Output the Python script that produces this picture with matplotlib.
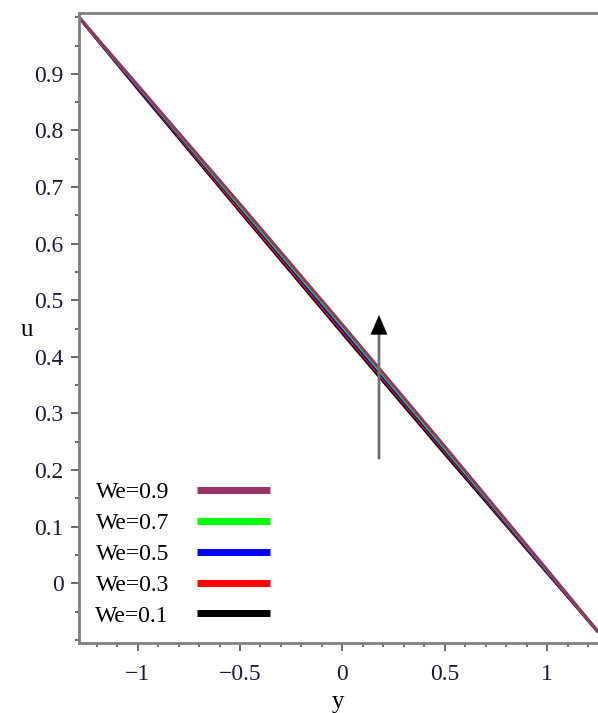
import numpy as np
from matplotlib import pyplot as plt
from matplotlib.ticker import MultipleLocator

# velocity profiles u(y) for several Weissenberg numbers
y_pts = [-1.287, -1.0, -0.5, 0.0, 0.5, 1.0, 1.25]
u_we01 = [1.0, 0.874, 0.657, 0.442, 0.229, 0.019, -0.086]
u_we03 = [1.0, 0.876, 0.660, 0.446, 0.233, 0.020, -0.086]
u_we05 = [1.0, 0.877, 0.664, 0.450, 0.236, 0.021, -0.086]
u_we07 = [1.0, 0.879, 0.667, 0.454, 0.239, 0.023, -0.086]
u_we09 = [1.0, 0.880, 0.670, 0.457, 0.242, 0.024, -0.086]

labels = ['We=0.9', 'We=0.7', 'We=0.5', 'We=0.3', 'We=0.1']
series = [u_we09, u_we07, u_we05, u_we03, u_we01]
colors = ['#993366', '#00ff00', '#0000ff', '#ff0000', '#000000']

xticks = [-1, -0.5, 0, 0.5, 1]
xticklabels = ['\u22121', '\u22120.5', '0', '0.5', '1']
yticks = [0, 0.1, 0.2, 0.3, 0.4, 0.5, 0.6, 0.7, 0.8, 0.9]
yticklabels = ['0', '0.1', '0.2', '0.3', '0.4', '0.5', '0.6', '0.7', '0.8', '0.9']

plt.rcParams['font.family'] = ['Liberation Serif', 'DejaVu Serif']

fig = plt.figure(figsize=(5.98, 7.13), dpi=100)
ax = fig.add_axes([0.132, 0.0978, 0.868, 0.8835])

# draw lowest first so the top curves stay on top
for u, c, lab in reversed(list(zip(series, colors, labels))):
	ax.plot(y_pts, u, color=c, lw=2.2, label=lab, solid_capstyle='butt')

# grey shaft with a black head
ax.annotate('', xy=(0.179, 0.45), xytext=(0.179, 0.221),
	arrowprops=dict(arrowstyle='-', color='#707070', lw=2,
		shrinkA=0, shrinkB=0))
ax.annotate('', xy=(0.179, 0.474), xytext=(0.179, 0.44),
	arrowprops=dict(arrowstyle='-|>,head_width=0.6,head_length=1.4',
		color='black', lw=0.1, shrinkA=0, shrinkB=0))

ax.set_xlim(-1.287, 1.249)
ax.set_ylim(-0.106, 1.007)

ax.set_xticks(xticks)
ax.set_xticklabels(xticklabels)
ax.set_yticks(yticks)
ax.set_yticklabels(yticklabels)
ax.xaxis.set_minor_locator(MultipleLocator(0.1))
ax.yaxis.set_minor_locator(MultipleLocator(0.05))
ax.tick_params(which='major', length=6, width=1.3, color='#606060',
	labelsize=17, labelcolor='#1a1a3a')
ax.tick_params(axis='x', which='major', pad=9)
ax.tick_params(axis='y', which='major', pad=5)
ax.tick_params(which='minor', length=3, width=1.3, color='#606060')

for s in ['left', 'bottom', 'top']:
	ax.spines[s].set_color('#808080')
	ax.spines[s].set_linewidth(2)
ax.spines['right'].set_visible(False)

ax.set_xlabel('y', fontsize=18, labelpad=4)
ax.set_ylabel('u', fontsize=18, rotation=0)
ax.yaxis.set_label_coords(-0.1, 0.48)

handles, labs = ax.get_legend_handles_labels()
leg = ax.legend(handles[::-1], labs[::-1], loc='lower left', frameon=False,
	markerfirst=False, fontsize=17, handlelength=3.1, handletextpad=1.2,
	labelspacing=0.4, borderaxespad=0.3, bbox_to_anchor=(0.0, 0.0))
for h in leg.get_lines():
	h.set_linewidth(5)

fig.savefig('out.png', dpi=100)
